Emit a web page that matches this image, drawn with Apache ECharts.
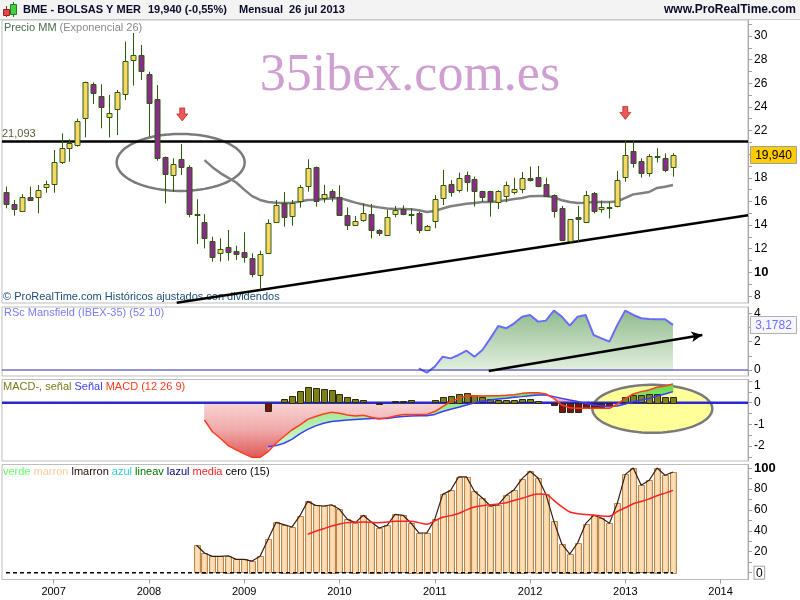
<!DOCTYPE html>
<html><head><meta charset="utf-8">
<script src="https://cdn.jsdelivr.net/npm/echarts@6/dist/echarts.min.js"></script>
<style>html,body{margin:0;padding:0;background:#fff}#c{width:800px;height:600px}</style>
</head><body><div id="c"></div>
<script>
// ---------- DATA (monthly, index 0 = jul 2006, index 84 = jul 2013) ----------
const firstMonth = 'jul 2006';
const yearLabels = ['2007','2008','2009','2010','2011','2012','2013','2014'];
const yearTickIdx = [6,18,30,42,54,66,78,90];

const open = [16.78,15.79,15.22,16.41,16.41,17.20,17.42,19.28,20.49,20.72,
23.00,25.91,24.92,23.12,23.79,25.15,27.97,28.36,26.76,24.70,
19.73,18.24,19.56,18.94,14.95,14.23,12.66,11.61,12.12,11.81,
11.70,11.19,9.78,11.61,14.24,15.84,14.74,15.98,17.31,18.89,
16.27,16.89,16.41,14.83,14.07,14.49,14.91,13.59,13.22,14.91,
15.39,14.96,14.99,13.59,14.29,16.27,17.48,16.91,18.24,17.87,
16.86,16.86,15.98,16.49,16.83,17.03,17.96,18.04,17.48,16.55,
15.42,12.60,14.66,14.29,16.75,15.34,15.50,15.65,18.10,20.27,
19.42,18.44,19.87,19.65,18.89];
const high = [17.25,16.12,16.63,17.25,17.39,17.76,20.35,21.76,21.26,23.00,
26.13,26.08,25.91,25.01,25.43,29.52,30.25,29.24,26.98,25.85,
19.80,19.65,20.86,19.06,16.18,14.94,13.02,12.88,13.59,12.26,
13.39,11.61,11.84,14.49,16.13,16.80,16.12,17.40,19.57,18.95,
17.40,17.03,17.37,15.50,14.77,15.84,15.79,13.65,15.28,15.62,
15.67,15.42,15.14,14.01,16.55,18.66,17.82,18.44,18.52,18.10,
16.90,16.90,16.95,17.68,18.01,18.49,18.95,19.00,18.01,16.60,
15.62,14.52,15.62,16.89,16.80,16.07,15.98,18.58,21.20,21.12,
19.65,20.02,20.50,20.07,20.10];
const low = [15.42,14.80,15.14,16.12,15.00,16.74,16.74,19.17,19.37,20.64,
21.43,24.25,22.19,21.43,21.62,24.58,25.80,26.28,21.48,19.45,
15.84,16.83,18.24,14.66,12.40,12.03,10.91,10.91,10.99,11.05,
10.82,9.58,8.51,11.56,14.20,13.87,13.95,15.48,16.83,15.56,
15.90,15.98,14.80,13.59,14.00,14.29,12.88,13.08,13.22,14.66,
14.83,14.07,13.31,13.53,13.73,15.70,16.41,16.75,16.83,15.56,
15.98,14.72,15.36,15.93,16.60,16.69,17.68,17.20,16.46,14.63,
12.65,12.52,12.60,14.27,14.99,15.05,14.57,15.50,17.68,18.86,
18.01,18.10,19.31,18.47,18.10];
const close = [15.76,15.33,16.41,16.18,16.97,17.48,19.31,20.49,20.92,22.78,
26.08,25.15,23.96,23.46,25.23,27.91,28.36,27.04,24.30,19.73,
18.30,19.14,18.89,14.94,14.92,12.88,11.27,11.95,11.70,11.53,
11.25,9.83,11.56,14.15,15.67,14.66,15.84,17.20,18.80,16.04,
16.63,16.38,14.91,14.01,14.38,15.05,13.59,13.31,14.72,15.28,
14.94,14.91,13.59,13.95,16.18,17.40,16.83,17.96,17.68,16.83,
16.32,16.01,16.89,17.40,17.06,17.96,17.82,17.25,16.49,15.22,
12.68,14.49,14.49,16.55,15.22,15.50,15.48,17.82,19.93,19.23,
18.44,19.85,19.85,18.64,19.94];

const emaStart = 25;
const ema26 = [19.5,18.9,18.4,18.0,17.6,17.0,16.45,16.13,15.95,15.9,
15.87,15.87,16.0,16.13,16.15,16.2,16.25,16.3,16.1,15.9,
15.75,15.6,15.5,15.4,15.36,15.36,15.35,15.25,15.11,15.2,
15.4,15.6,15.7,15.8,15.87,15.95,15.96,16.0,16.1,16.2,
16.3,16.45,16.46,16.46,16.35,16.1,15.95,15.87,15.9,15.96,
15.96,15.96,16.0,16.3,16.6,16.7,16.8,17.14,17.25,17.39];

const resistance = 21.093;
const supportLine = [[21.5, 7.44], [93.45, 14.83]];
const priceEllipse = [22.0, 19.3];
const redArrows = [[22.2, 23.36], [78.0, 23.49]];

const rscStart = 52;
const rscMansfield = [0.12,-0.19,0.24,0.94,0.82,1.06,1.36,0.94,1.41,2.23,
3.10,2.94,3.29,3.76,3.88,3.41,3.48,4.19,3.76,3.13,
3.76,3.88,2.47,2.23,2.00,3.18,4.19,3.88,3.65,3.60,
3.58,3.58,3.1782];
const rscArrow = [[60.8, -0.07], [87.7, 2.47]];

const macdStart = 25;
const macdLine = [-0.80,-1.34,-1.64,-1.98,-2.18,-2.36,-2.52,-2.52,-2.26,-1.87,
-1.56,-1.26,-1.03,-0.77,-0.64,-0.52,-0.44,-0.49,-0.57,-0.61,
-0.58,-0.67,-0.75,-0.70,-0.61,-0.55,-0.54,-0.55,-0.54,-0.41,
-0.18,0.05,0.20,0.31,0.32,0.31,0.32,0.32,0.34,0.37,
0.43,0.46,0.46,0.40,0.20,-0.11,-0.23,-0.26,-0.26,-0.26,
-0.26,-0.26,-0.06,0.20,0.40,0.51,0.59,0.71,0.77,0.86];
const signalStart = 33;
const signalLine = [-2.03,-1.98,-1.87,-1.69,-1.44,-1.23,-1.07,-0.95,-0.87,-0.83,
-0.80,-0.77,-0.75,-0.73,-0.73,-0.73,-0.67,-0.64,-0.61,-0.60,
-0.60,-0.54,-0.41,-0.30,-0.21,-0.11,0.0,0.08,0.12,0.17,
0.20,0.25,0.28,0.32,0.35,0.35,0.28,0.20,0.12,0.05,
-0.03,-0.11,-0.15,-0.18,-0.15,-0.06,0.05,0.12,0.20,0.31,
0.40,0.51];
const histStart = 33;
const macdHist = [-0.37,null,0.16,0.31,0.54,0.71,0.66,0.62,0.57,0.39,
0.25,0.16,0.11,null,-0.05,null,0.06,0.06,0.11,null,
null,0.11,0.25,0.31,0.40,0.43,0.35,0.25,0.16,0.12,
0.12,0.12,0.16,0.16,0.09,null,-0.10,-0.41,-0.41,-0.41,
-0.22,-0.22,-0.18,-0.15,null,0.25,0.34,0.34,0.40,0.40,
0.28,0.28];
const macdEllipse = [81.4, -0.28];

const oscStart = 24;
const oscMarron = [26.2,18.8,15.6,15.6,16.2,12.7,12.7,11.1,15.6,31.8,
48.0,45.9,43.6,54.2,68.1,64.3,63.7,64.9,60.5,50.9,
47.8,54.8,48.4,42.7,45.2,55.7,54.8,47.4,37.9,37.9,
50.9,74.8,78.6,91.4,91.4,77.7,71.3,63.7,64.9,73.9,
79.3,89.8,96.8,90.4,74.8,49.0,27.4,17.8,28.6,46.8,
54.8,52.2,47.1,66.5,93.9,100,83.4,88.2,100,93.0,96.2];
const mediaStart = 38;
const oscMedia = [36.6,39.5,42,44.5,46.5,47.8,48.2,48.4,48.1,47.8,
48.4,49,49.1,49,47.8,46.3,49.5,53,54.5,56.5,
60,62.8,64,64.9,65.7,66.8,69,71,73.5,75.2,
74.8,69,63,58,56.3,55.5,55,54.2,54,58.5,
62,65.8,68,70.5,73.5,76,78.6];
const ceroLevel = 0;

const priceLabels = [8,10,12,14,16,18,22,24,26,28,30];
const priceTicks = [8,9,10,11,12,13,14,15,16,17,18,19,20,21,22,23,24,25,26,27,28,29,30,31];
const rscLabels = [0,2,4];
const rscTicks = [0,1,2,3,4];
const macdLabels = [-2,-1,0,1];
const macdTicks = [-2.5,-2,-1.5,-1,-0.5,0,0.5,1];
const oscLabels = [0,20,40,60,80,100];
const oscTicks = [0,10,20,30,40,50,60,70,80,90,100];

// ---------- helpers ----------
const X_MIN = -0.5, X_MAX = 93.45;
const last = close.length - 1;
const pairs = (start, arr) => arr.map((v, k) => [start + k, v]).filter(p => p[1] !== null);
const fmtComma = (v, d) => v.toFixed(d).replace('.', ',');

function candleItem(params, api) {
  const i = api.value(0), o = api.value(1), c = api.value(2), lo = api.value(3), hi = api.value(4);
  const pO = api.coord([i, o]), pC = api.coord([i, c]), pH = api.coord([i, hi]), pL = api.coord([i, lo]);
  const w = Math.round(api.size([1, 0])[0] * 0.62);
  const cx = Math.round(pO[0]) + 0.5;
  const top = Math.round(Math.min(pO[1], pC[1])) + 0.5;
  const h = Math.max(Math.round(Math.abs(pO[1] - pC[1])), 1);
  const up = c > o;
  return { type: 'group', children: [
    { type: 'line', shape: { x1: cx, y1: pH[1], x2: cx, y2: pL[1] }, style: { stroke: '#2d5a0c', lineWidth: 1 } },
    { type: 'rect', shape: { x: cx - w / 2, y: top, width: w, height: h },
      style: { fill: up ? '#f8d766' : '#8a2a8c', stroke: '#2d5a0c', lineWidth: 1 } }
  ]};
}
function ellipseRenderer(rx, ry, style) {
  return function (params, api) {
    const p = api.coord([api.value(0), api.value(1)]);
    const pts = [];
    for (let k = 0; k < 90; k++) { const t = k / 90 * Math.PI * 2; pts.push([p[0] + rx * Math.cos(t), p[1] + ry * Math.sin(t)]); }
    return { type: 'polygon', shape: { points: pts }, style: style };
  };
}
function barRenderer(fillPos, fillNeg, stroke, widthRatio) {
  return function (params, api) {
    const i = api.value(0), v = api.value(1);
    const p0 = api.coord([i, 0]), p1 = api.coord([i, v]);
    const w = Math.round(api.size([1, 0])[0] * widthRatio);
    const x = Math.round(p0[0] - w / 2) + 0.5;
    const y = Math.round(Math.min(p0[1], p1[1])) + 0.5;
    const h = Math.max(Math.round(Math.abs(p1[1] - p0[1])), 1);
    return { type: 'rect', shape: { x: x, y: y, width: w, height: h },
      style: { fill: v >= 0 ? fillPos : fillNeg, stroke: stroke, lineWidth: 1 } };
  };
}
function valueBox(fill, border, color, fontSize) {
  return function (params, api) {
    const v = api.value(1);
    const p = api.coord([X_MAX, v]);
    return { type: 'group', children: [
      { type: 'rect', shape: { x: p[0] + 2.5, y: Math.round(p[1] - 9) + 0.5, width: 46, height: 17 },
        style: { fill: fill, stroke: border, lineWidth: 1 } },
      { type: 'text', style: { text: api.value(2), x: p[0] + 25.5, y: p[1] + 0.5, align: 'center', verticalAlign: 'middle',
        fill: color, font: fontSize + 'px "Liberation Sans", Arial, sans-serif' } }
    ]};
  };
}
// fill between MACD and signal: green where MACD above, pink where below
function bandRenderer(params, api) {
  const i0 = api.value(0), m0 = api.value(1), s0 = api.value(2), m1 = api.value(3), s1 = api.value(4);
  const i1 = i0 + 1, d0 = m0 - s0, d1 = m1 - s1;
  const yTop = api.coord([0, 1.0])[1], yBot = api.coord([0, -2.3])[1];
  const green = new echarts.graphic.LinearGradient(0, yTop, 0, yBot, [
    { offset: 0, color: '#5cd83a' }, { offset: 0.35, color: '#9be993' }, { offset: 1, color: '#d8f7d4' }], true);
  const pink = '#efb3ba';
  const P = (x, y) => api.coord([x, y]);
  const poly = (pts, fill) => ({ type: 'polygon', shape: { points: pts }, style: { fill: fill, stroke: fill, lineWidth: 0.6 } });
  const ch = [];
  if (d0 * d1 >= 0) {
    ch.push(poly([P(i0, m0), P(i1, m1), P(i1, s1), P(i0, s0)], (d0 + d1) >= 0 ? green : pink));
  } else {
    const t = d0 / (d0 - d1), xc = i0 + t, yc = m0 + t * (m1 - m0);
    ch.push(poly([P(i0, m0), P(xc, yc), P(i0, s0)], d0 > 0 ? green : pink));
    ch.push(poly([P(xc, yc), P(i1, m1), P(i1, s1)], d1 > 0 ? green : pink));
  }
  return { type: 'group', children: ch };
}
// pink fill between zero and MACD where MACD is negative
function negAreaRenderer(params, api) {
  const i0 = api.value(0), m0 = api.value(1), m1 = api.value(2), i1 = i0 + 1;
  const yTop = api.coord([0, 0])[1], yBot = api.coord([0, -2.55])[1];
  const fill = new echarts.graphic.LinearGradient(0, yTop, 0, yBot, [
    { offset: 0, color: '#f7d4d4' }, { offset: 0.5, color: '#f0a8a8' }, { offset: 1, color: '#de5656' }], true);
  const P = (x, y) => api.coord([x, y]);
  let pts = null;
  if (m0 <= 0 && m1 <= 0) pts = [P(i0, 0), P(i0, m0), P(i1, m1), P(i1, 0)];
  else if (m0 < 0 || m1 < 0) {
    const t = m0 / (m0 - m1), xc = i0 + t;
    pts = m0 < 0 ? [P(i0, 0), P(i0, m0), P(xc, 0)] : [P(xc, 0), P(i1, m1), P(i1, 0)];
  }
  if (!pts) return { type: 'group', children: [] };
  return { type: 'polygon', shape: { points: pts }, style: { fill: fill, stroke: fill, lineWidth: 0.6 } };
}

const baseFont = '"Liberation Sans", Arial, sans-serif';
const axisLabelBase = { color: '#000', fontSize: 12, fontFamily: baseFont, margin: 6 };
function yAx(grid, min, max, labels, ticks, fmt) {
  return {
    type: 'value', gridIndex: grid, position: 'right', min: min, max: max, scale: true,
    axisLine: { show: true, onZero: false, lineStyle: { color: '#a8a8a8', width: 1 } },
    axisTick: { show: true, customValues: ticks, length: 4, lineStyle: { color: '#a0a0a0' } },
    axisLabel: Object.assign({ customValues: labels, formatter: fmt || (v => String(v)),
      rich: { b: { fontWeight: 'bold', fontSize: 13, color: '#000', fontFamily: baseFont },
              box: { borderColor: '#a0a0a0', borderWidth: 1, padding: [1, 2, 0, 2], color: '#000', fontFamily: baseFont, fontSize: 12 },
              low: { padding: [9, 0, 0, 0], color: '#000', fontFamily: baseFont, fontSize: 12 } } }, axisLabelBase),
    splitLine: { show: false }
  };
}

const bandData = [];
for (let i = signalStart; i < last; i++) {
  bandData.push([i, macdLine[i - macdStart], signalLine[i - signalStart], macdLine[i + 1 - macdStart], signalLine[i + 1 - signalStart]]);
}
const negData = [];
for (let i = macdStart; i < last; i++) negData.push([i, macdLine[i - macdStart], macdLine[i + 1 - macdStart]]);

const chart = echarts.init(document.getElementById('c'), null, { renderer: 'canvas' });
const option = {
  animation: false,
  backgroundColor: '#ffffff',
  grid: [
    { left: 2, right: 52, top: 20, height: 283, show: true, borderColor: '#bdbdbd', backgroundColor: '#fff' },
    { left: 2, right: 52, top: 307, height: 69, show: true, borderColor: '#bdbdbd', backgroundColor: '#fff' },
    { left: 2, right: 52, top: 379.5, height: 81.5, show: true, borderColor: '#bdbdbd', backgroundColor: '#fff' },
    { left: 2, right: 52, top: 464.5, height: 115, show: true, borderColor: '#bdbdbd', backgroundColor: '#fff' }
  ],
  xAxis: [0, 1, 2, 3].map(k => ({
    type: 'value', gridIndex: k, min: X_MIN, max: X_MAX, show: k === 3,
    axisLine: { show: false, onZero: false }, splitLine: { show: false },
    axisTick: { show: true, customValues: yearTickIdx, length: 4, lineStyle: { color: '#a0a0a0' } },
    axisLabel: { customValues: yearTickIdx, formatter: v => yearLabels[yearTickIdx.indexOf(v)] || '',
      color: '#000', fontSize: 11, fontFamily: baseFont, margin: 7 }
  })),
  yAxis: [
    yAx(0, 7.41, 31.35, priceLabels, priceTicks, v => v === 10 ? '{b|10}' : String(v)),
    yAx(1, -0.42, 4.44, rscLabels, rscTicks),
    yAx(2, -2.69, 1.07, macdLabels, macdTicks, v => v === 1 ? '{low|1}' : String(v)),
    yAx(3, -6.5, 103.3, oscLabels, oscTicks, v => v === 100 ? '{b|100}' : (v === 0 ? '{box|0}' : String(v)))
  ],
  series: [
    // ---- price panel ----
    { type: 'custom', name: 'ellipse', xAxisIndex: 0, yAxisIndex: 0, z: 3, silent: true,
      renderItem: ellipseRenderer(64, 28.5, { fill: null, stroke: '#7a7a7a', lineWidth: 2.5 }),
      data: [priceEllipse] },
    { type: 'line', name: 'MM Exponencial 26', xAxisIndex: 0, yAxisIndex: 0, z: 4, symbol: 'none',
      lineStyle: { color: '#808080', width: 2.5 }, data: pairs(emaStart, ema26) },
    { type: 'custom', name: 'BME', xAxisIndex: 0, yAxisIndex: 0, z: 5,
      renderItem: candleItem,
      data: open.map((o, i) => [i, o, close[i], low[i], high[i]]) },
    { type: 'line', name: 'lines', xAxisIndex: 0, yAxisIndex: 0, z: 6, symbol: 'none', data: [],
      markLine: { silent: true, symbol: 'none', animation: false,
        lineStyle: { color: '#000', width: 2.5, type: 'solid' },
        data: [
          { yAxis: resistance, label: { show: true, position: 'insideStartTop', distance: [0, 2],
              formatter: fmtComma(resistance, 3), color: '#5a5a3a', fontSize: 11, fontFamily: baseFont } },
          [ { coord: supportLine[0], label: { show: false } }, { coord: supportLine[1] } ]
        ] } },
    { type: 'scatter', name: 'arrows', xAxisIndex: 0, yAxisIndex: 0, z: 7, silent: true,
      symbol: 'path://M3,0 L8,0 L8,6 L11,6 L5.5,13 L0,6 L3,6 Z', symbolSize: [11, 13],
      itemStyle: { color: '#e63030', borderColor: '#b01010', borderWidth: 0.8 }, data: redArrows },
    { type: 'custom', name: 'lastPrice', xAxisIndex: 0, yAxisIndex: 0, z: 8, silent: true,
      renderItem: valueBox('#ffcc00', '#a0a0a0', '#000', 12),
      data: [[last, close[last], fmtComma(close[last], 3)]] },

    // ---- RSC panel ----
    { type: 'line', name: 'RSc Mansfield', xAxisIndex: 1, yAxisIndex: 1, z: 3, symbol: 'none',
      lineStyle: { color: '#6a6aff', width: 2 },
      areaStyle: { origin: 0, color: new echarts.graphic.LinearGradient(0, 0, 0, 1, [
        { offset: 0, color: '#5f9f5c' }, { offset: 1, color: '#dcecd6' }]) },
      data: pairs(rscStart, rscMansfield) },
    { type: 'line', name: 'rscZero', xAxisIndex: 1, yAxisIndex: 1, z: 4, symbol: 'none',
      lineStyle: { color: '#2828a8', width: 1 }, data: [[X_MIN, 0], [X_MAX, 0]],
      markLine: { silent: true, symbol: ['none', 'arrow'], symbolSize: [8, 11], animation: false,
        lineStyle: { color: '#000', width: 2.5, type: 'solid' }, label: { show: false },
        data: [[ { coord: rscArrow[0] }, { coord: rscArrow[1] } ]] } },
    { type: 'custom', name: 'rscLast', xAxisIndex: 1, yAxisIndex: 1, z: 8, silent: true,
      renderItem: valueBox('#f6f6ff', '#b0b0b0', '#7070ff', 12),
      data: [[last, rscMansfield[rscMansfield.length - 1], fmtComma(rscMansfield[rscMansfield.length - 1], 4)]] },

    // ---- MACD panel ----
    { type: 'custom', name: 'macdEllipse', xAxisIndex: 2, yAxisIndex: 2, z: 1, silent: true,
      renderItem: ellipseRenderer(60, 24, { fill: '#ffff99', stroke: '#7a7a7a', lineWidth: 2.5 }),
      data: [macdEllipse] },
    { type: 'custom', name: 'macdArea', xAxisIndex: 2, yAxisIndex: 2, z: 2, silent: true,
      renderItem: negAreaRenderer, encode: { x: 0, y: [1, 2] }, data: negData },
    { type: 'custom', name: 'band', xAxisIndex: 2, yAxisIndex: 2, z: 3, silent: true,
      renderItem: bandRenderer, encode: { x: 0, y: [1, 2] }, data: bandData },
    { type: 'line', name: 'macdZero', xAxisIndex: 2, yAxisIndex: 2, z: 4, symbol: 'none',
      lineStyle: { color: '#2a2ad0', width: 2.5 }, data: [[X_MIN, 0], [X_MAX, 0]] },
    { type: 'custom', name: 'MACD-, señal', xAxisIndex: 2, yAxisIndex: 2, z: 5,
      renderItem: barRenderer('#7e7e1a', '#7a1414', '#2a2a08', 0.7),
      data: pairs(histStart, macdHist) },
    { type: 'line', name: 'Señal', xAxisIndex: 2, yAxisIndex: 2, z: 6, symbol: 'none',
      lineStyle: { color: '#3c3cff', width: 1.5 }, data: pairs(signalStart, signalLine) },
    { type: 'line', name: 'MACD', xAxisIndex: 2, yAxisIndex: 2, z: 6, symbol: 'none',
      lineStyle: { color: '#ff3c1e', width: 1.5 }, data: pairs(macdStart, macdLine) },

    // ---- oscillator panel ----
    { type: 'custom', name: 'marron', xAxisIndex: 3, yAxisIndex: 3, z: 2,
      renderItem: function (params, api) {
        const i = api.value(0), v = api.value(1);
        const p0 = api.coord([i, 0]), p1 = api.coord([i, v]);
        const w = Math.round(api.size([1, 0])[0] * 0.72);
        const x = Math.round(p0[0] - w / 2) + 0.5, y = Math.round(p1[1]) + 0.5;
        return { type: 'rect', shape: { x: x, y: y, width: w, height: Math.round(p0[1] - p1[1]) },
          style: { fill: new echarts.graphic.LinearGradient(0, 0, 1, 0, [
            { offset: 0, color: '#f6c890' }, { offset: 0.5, color: '#fde3bb' }, { offset: 1, color: '#f3c087' }]),
            stroke: '#b98a55', lineWidth: 1 } };
      },
      data: pairs(oscStart, oscMarron) },
    { type: 'line', name: 'lmarron', xAxisIndex: 3, yAxisIndex: 3, z: 3, symbol: 'none',
      lineStyle: { color: '#3a1a12', width: 1.2 }, data: pairs(oscStart, oscMarron) },
    { type: 'line', name: 'media', xAxisIndex: 3, yAxisIndex: 3, z: 4, symbol: 'none', smooth: 0.3,
      lineStyle: { color: '#ff2222', width: 1.5 }, data: pairs(mediaStart, oscMedia) },
    { type: 'line', name: 'cero', xAxisIndex: 3, yAxisIndex: 3, z: 4, symbol: 'none',
      lineStyle: { color: '#000', width: 1.5, type: [4, 3] }, data: [[0, ceroLevel], [last, ceroLevel]] }
  ],
  graphic: { elements: [
    { type: 'rect', left: 0, top: 0, z: 50, shape: { width: 800, height: 19 }, style: { fill: '#f3f3f3', stroke: null } },
    { type: 'line', z: 51, shape: { x1: 0, y1: 19.5, x2: 800, y2: 19.5 }, style: { stroke: '#c8c8c8', lineWidth: 1 } },
    // icon
    { type: 'line', z: 52, shape: { x1: 6.5, y1: 6, x2: 6.5, y2: 17 }, style: { stroke: '#a02020', lineWidth: 1 } },
    { type: 'rect', z: 53, shape: { x: 3.5, y: 9.5, width: 6, height: 6 }, style: { fill: '#e04848', stroke: '#a02020', lineWidth: 1 } },
    { type: 'line', z: 52, shape: { x1: 13.5, y1: 2, x2: 13.5, y2: 17 }, style: { stroke: '#208020', lineWidth: 1 } },
    { type: 'rect', z: 53, shape: { x: 10.5, y: 4.5, width: 6, height: 10 }, style: { fill: '#40d040', stroke: '#208020', lineWidth: 1 } },
    { type: 'text', z: 53, x: 23, y: 10, style: { text: 'BME - BOLSAS Y MER', fill: '#0a0a2a', font: 'bold 11px ' + baseFont, verticalAlign: 'middle' } },
    { type: 'text', z: 53, x: 148, y: 10, style: { text: '19,940 (-0,55%)', fill: '#0a0a2a', font: 'bold 11px ' + baseFont, verticalAlign: 'middle' } },
    { type: 'text', z: 53, x: 239, y: 10, style: { text: 'Mensual  26 jul 2013', fill: '#0a0a2a', font: 'bold 11px ' + baseFont, verticalAlign: 'middle' } },
    { type: 'text', z: 53, x: 796, y: 10, style: { text: 'www.ProRealTime.com', fill: '#0a0a2a', font: 'bold 12px ' + baseFont, align: 'right', verticalAlign: 'middle' } },
    // panel titles
    { type: 'text', z: 53, x: 4, y: 28, style: { text: '{a|Precio MM }{b|(Exponencial 26)}', verticalAlign: 'middle',
      rich: { a: { fill: '#4c6c4c', font: '11px ' + baseFont }, b: { fill: '#8a8a8a', font: '11px ' + baseFont } } } },
    { type: 'text', z: 53, x: 4, y: 313, style: { text: 'RSc Mansfield (IBEX-35) (52 10)', fill: '#7b7bff', font: '11px ' + baseFont, verticalAlign: 'middle' } },
    { type: 'text', z: 53, x: 3, y: 387, style: { text: '{a|MACD-, señal }{b|Señal }{c|MACD (12 26 9)}', verticalAlign: 'middle',
      rich: { a: { fill: '#7a7a1a', font: '11px ' + baseFont }, b: { fill: '#3c3cff', font: '11px ' + baseFont }, c: { fill: '#ff3c1e', font: '11px ' + baseFont } } } },
    { type: 'text', z: 53, x: 3, y: 472, style: { text: '{a|verde }{b|marron }{c|lmarron }{d|azul }{e|lineav }{f|lazul }{g|media }{h|cero (15)}', verticalAlign: 'middle',
      rich: { a: { fill: '#66ff66', font: '11px ' + baseFont }, b: { fill: '#ffcc99', font: '11px ' + baseFont }, c: { fill: '#2a0a0a', font: '11px ' + baseFont },
              d: { fill: '#33cccc', font: '11px ' + baseFont }, e: { fill: '#007700', font: '11px ' + baseFont }, f: { fill: '#000080', font: '11px ' + baseFont },
              g: { fill: '#ff2020', font: '11px ' + baseFont }, h: { fill: '#000', font: '11px ' + baseFont } } } },
    // watermark & copyright
    { type: 'text', z: 1, x: 410, y: 76, style: { text: '35ibex.com.es', fill: '#cf9fd2', font: '52px "Liberation Serif", "Times New Roman", serif', align: 'center', verticalAlign: 'middle' } },
    { type: 'text', z: 1, x: 3, y: 297, style: { text: '© ProRealTime.com Históricos ajustados con dividendos', fill: '#1d4d7a', font: '11px ' + baseFont, verticalAlign: 'middle' } }
  ]}
};
chart.setOption(option);
</script>
</body></html>
